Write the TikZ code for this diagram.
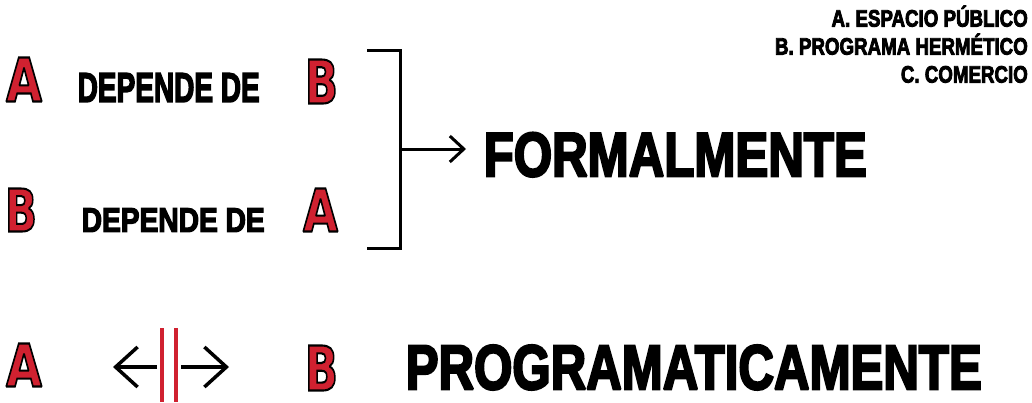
\documentclass[tikz,border=0pt]{standalone}
\usepackage{fontspec}
\usepackage{graphicx}
\usetikzlibrary{arrows.meta}
\setmainfont{Liberation Sans}
\newfontfamily\hv{Liberation Sans}[UprightFont={* Bold},FakeBold=4]
\newfontfamily\outl{DejaVu Sans}[UprightFont={* Bold},FakeBold=3.5]
\definecolor{letred}{RGB}{208,33,48}
\newcommand\mlim{\special{pdf:literal direct 1.5 M}}
% fill red, stroke black: one glyph, emboldened by a black stroke
\newcommand\outlined[1]{\special{pdf:bcolor [0.816 0.129 0.188] [0 0 0]}#1\special{pdf:ecolor}}
\newcommand\redletter[6]{%
  \node[inner sep=0] (#1) at (#2,#3) {\mlim\outlined{\resizebox{#4pt}{#5pt}{\outl #6}}};}
\tikzset{
  heavytext/.style={inner sep=0,anchor=south west},
  legend/.style={inner sep=0,anchor=south east},
  bracketline/.style={line width=3pt,line join=miter},
  arr/.style={line width=3pt,-{Straight Barb[length=14pt,width=26pt]}},
  arrb/.style={line width=3.5pt,-{Straight Barb[length=22pt,width=40pt]}},
  redbar/.style={draw=letred,line width=4pt}
}
\begin{document}
\begin{tikzpicture}[x=1pt,y=-1pt]
\useasboundingbox (0,0) rectangle (1032,402);
% legend
\node[legend] (la) at (1028,27) {\mlim\scalebox{0.79}[1]{\fontsize{23.7}{28}\selectfont\hv A. ESPACIO PÚBLICO}};
\node[legend] (lb) at (1028,55) {\mlim\scalebox{0.79}[1]{\fontsize{23.7}{28}\selectfont\hv B. PROGRAMA HERMÉTICO}};
\node[legend] (lc) at (1028,83) {\mlim\scalebox{0.79}[1]{\fontsize{23.7}{28}\selectfont\hv C. COMERCIO}};
% row 1
\redletter{a1}{24}{79.5}{36}{44}{A}
\node[heavytext] (d1) at (77.5,102) {\mlim\resizebox{182pt}{28.5pt}{\hv DEPENDE DE}};
\redletter{b1}{321.5}{81.5}{33}{44}{B}
% row 2
\redletter{b2}{21}{210}{32}{43}{B}
\node[heavytext] (d2) at (81.5,232) {\mlim\resizebox{183pt}{23.5pt}{\hv DEPENDE DE}};
\redletter{a2}{320.5}{210}{35}{43}{A}
% bracket
\coordinate (bt0) at (367,50);
\coordinate (bt1) at (400,50);
\coordinate (bb1) at (400,248);
\coordinate (bb0) at (367,248);
\coordinate (bm) at (400,149);
\coordinate (tip) at (466,149);
\draw[bracketline] (bt0) -- (bt1) -- (bb1) -- (bb0);
\draw[arr] (bm) -- (tip);
\node[heavytext] (fm) at (483.5,177) {\mlim\resizebox{383pt}{43.5pt}{\hv FORMALMENTE}};
% bottom row
\redletter{a3}{24}{365}{36}{43}{A}
\redletter{b3}{321.5}{368}{33}{45}{B}
\coordinate (l0) at (157,367);
\coordinate (l1) at (113,367);
\coordinate (r0) at (181,367);
\coordinate (r1) at (229,367);
\draw[arrb] (l0) -- (l1);
\draw[arrb] (r0) -- (r1);
\coordinate (p1t) at (162,328);
\coordinate (p1b) at (162,402);
\coordinate (p2t) at (176,328);
\coordinate (p2b) at (176,402);
\draw[redbar] (p1t) -- (p1b);
\draw[redbar] (p2t) -- (p2b);
\node[heavytext] (pg) at (405.5,390) {\mlim\resizebox{576pt}{44pt}{\hv PROGRAMATICAMENTE}};
\end{tikzpicture}
\end{document}
